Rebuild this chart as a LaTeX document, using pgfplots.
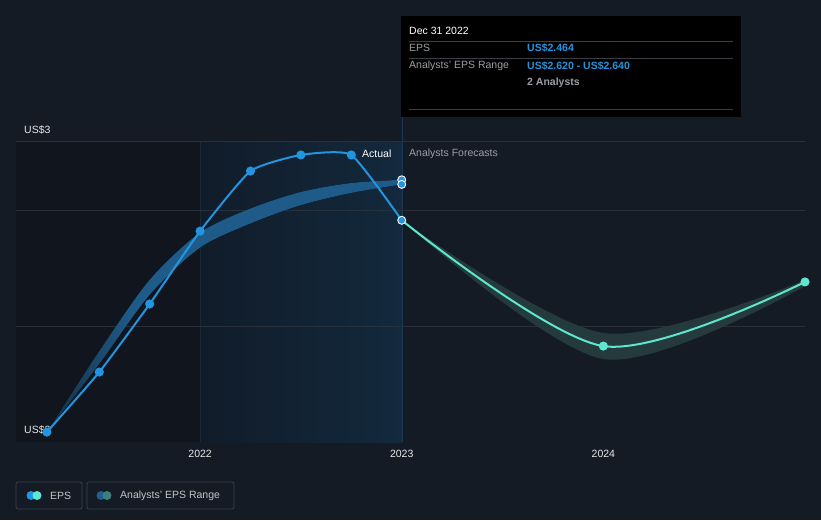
\documentclass[border=0pt]{standalone}
\usepackage{pgfplots}
\pgfplotsset{compat=1.18}
\usepgfplotslibrary{fillbetween}
\tikzset{fill between/on layer=main}
\usepackage{fontspec}
\setmainfont{Liberation Sans}
\definecolor{bg}{HTML}{151B25}
\definecolor{leftdark}{HTML}{11161E}
\definecolor{blueA}{HTML}{111C29}
\definecolor{blueB}{HTML}{13293D}
\definecolor{gridc}{HTML}{2A303A}
\definecolor{axisc}{HTML}{4A4F57}
\definecolor{epsblue}{HTML}{2394DF}
\definecolor{bandblue}{HTML}{1F5B89}
\definecolor{bandfadecol}{HTML}{172C40}
\definecolor{teal}{HTML}{5EE6CF}
\definecolor{bandteal}{HTML}{253A3D}
\definecolor{txt}{HTML}{E6E6E6}
\definecolor{graytxt}{HTML}{9A9EA4}
\definecolor{sepc}{HTML}{3B3F45}
\definecolor{vline}{HTML}{1B3956}
\definecolor{vline2}{HTML}{1A2838}
\definecolor{legbox}{HTML}{3A404A}
\definecolor{legdark}{HTML}{1F5F8F}
\definecolor{legteal}{HTML}{3D7F7C}
\pgfdeclarehorizontalshading{bandfade}{100bp}{color(0bp)=(bandfadecol); color(25bp)=(bandfadecol); color(37bp)=(bandblue); color(100bp)=(bandblue)}
\newcommand{\fs}{\fontsize{10.5}{12}\selectfont}
\begin{document}
\begin{tikzpicture}
\fill[bg] (0pt,0pt) rectangle (821pt,520pt);
\fill[leftdark] (16pt,78pt) rectangle (200pt,378pt);
\shade[left color=blueA, right color=blueB] (200pt,78pt) rectangle (402pt,378pt);
\draw[vline2, line width=0.8pt] (200pt,78pt) -- (200pt,378pt);
\draw[vline, line width=1pt] (402pt,78pt) -- (402pt,403pt);
\draw[gridc, line width=1pt] (16pt,194pt) -- (805pt,194pt);
\draw[gridc, line width=1pt] (16pt,309pt) -- (805pt,309pt);
\draw[gridc, line width=1pt] (16pt,378pt) -- (805pt,378pt);
\node[anchor=west, inner sep=0pt, font=\fs, text=txt] at (24pt,90pt) {US\$2};
\node[anchor=west, inner sep=0pt, font=\fs, text=txt] at (24pt,390pt) {US\$3};
\begin{axis}[
  at={(16pt,78pt)}, anchor=south west, scale only axis,
  width=789pt, height=300pt,
  xmin=0.087, xmax=4.0, ymin=1.5, ymax=2.8043,
  axis x line*=bottom, axis y line=none,
  x axis line style={draw=axisc, line width=1pt, -},
  xtick={1,2,3}, xticklabels={2022,2023,2024},
  ytick=\empty,
  tick align=outside, major tick length=5pt,
  every tick/.style={draw=axisc, line width=0.8pt},
  xticklabel style={font=\fs, text=txt},
]
% past analyst range band
\addplot[name path=pu, draw=none, smooth, forget plot] coordinates {
 (0.24,1.543) (0.5,1.895) (0.75,2.205) (1.0,2.410) (1.25,2.515) (1.5,2.587) (1.75,2.626) (2.0,2.640)};
\addplot[name path=pl, draw=none, smooth, forget plot] coordinates {
 (0.24,1.543) (0.5,1.840) (0.75,2.140) (1.0,2.345) (1.25,2.450) (1.5,2.530) (1.75,2.583) (2.0,2.620)};
\addplot[shade, shading=bandfade, draw=none, forget plot] fill between[of=pu and pl];
% forecast band
\addplot[name path=fu, draw=none, smooth, forget plot] coordinates {
 (2.0,2.464) (3.0,1.974) (4.0,2.204)};
\addplot[name path=fl, draw=none, smooth, forget plot] coordinates {
 (2.0,2.464) (3.0,1.861) (4.0,2.178)};
\addplot[fill=bandteal, draw=none, forget plot] fill between[of=fu and fl];
% forecast EPS
\addplot[teal, line width=2pt, smooth, mark=*, mark size=3.5pt, mark options={fill=teal, draw=teal}, mark indices={2,3}] coordinates {
 (2.0,2.464) (3.0,1.917) (4.0,2.196)};
% actual EPS
\addplot[epsblue, line width=2pt, smooth, tension=0.3, mark=*, mark size=3.5pt, mark options={fill=epsblue, draw=epsblue}, mark indices={1,2,3,4,5,6,7}] coordinates {
 (0.24,1.543) (0.5,1.804) (0.75,2.100) (1.0,2.417) (1.25,2.678) (1.5,2.748) (1.75,2.748) (2.0,2.464)};
% Dec 31 2022 markers
\addplot[only marks, mark=*, mark size=4pt, mark options={fill=epsblue, draw=white, line width=0.9pt}] coordinates {
 (2.0,2.640) (2.0,2.620) (2.0,2.464)};
\end{axis}
% labels
\node[anchor=west, inner sep=0pt, font=\fs, text=white] at (362pt,366pt) {Actual};
\node[anchor=west, inner sep=0pt, font=\fs, text=graytxt] at (409pt,366pt) {Analysts Forecasts};
% tooltip
\fill[black] (401pt,403pt) rectangle (741pt,504pt);
\draw[sepc, line width=0.8pt] (409pt,479pt) -- (733pt,479pt);
\draw[sepc, line width=0.8pt] (409pt,462pt) -- (733pt,462pt);
\draw[sepc, line width=0.8pt] (409pt,411pt) -- (733pt,411pt);
\node[anchor=west, inner sep=0pt, font=\fs, text=white] at (409pt,489pt) {Dec 31 2022};
\node[anchor=west, inner sep=0pt, font=\fs, text=graytxt] at (409pt,472pt) {EPS};
\node[anchor=west, inner sep=0pt, font=\fs\bfseries, text=epsblue] at (527pt,472pt) {US\$2.464};
\node[anchor=west, inner sep=0pt, font=\fs, text=graytxt] at (409pt,454pt) {Analysts' EPS Range};
\node[anchor=west, inner sep=0pt, font=\fs\bfseries, text=epsblue] at (527pt,454pt) {US\$2.620 - US\$2.640};
\node[anchor=west, inner sep=0pt, font=\fs\bfseries, text=graytxt] at (527pt,437pt) {2 Analysts};
% legend
\draw[legbox, line width=0.8pt, rounded corners=2pt] (16pt,11pt) rectangle (82pt,38pt);
\fill[epsblue] (31pt,24.5pt) circle (4.5pt);
\fill[teal] (37pt,24.5pt) circle (4.5pt);
\node[anchor=west, inner sep=0pt, font=\fs, text=txt!85!black] at (50pt,24.5pt) {EPS};
\draw[legbox, line width=0.8pt, rounded corners=2pt] (87pt,11pt) rectangle (234pt,38pt);
\fill[legdark] (101pt,24.5pt) circle (4.5pt);
\fill[legteal] (107pt,24.5pt) circle (4.5pt);
\node[anchor=west, inner sep=0pt, font=\fs, text=txt!85!black] at (120pt,24.5pt) {Analysts' EPS Range};
\end{tikzpicture}
\end{document}
